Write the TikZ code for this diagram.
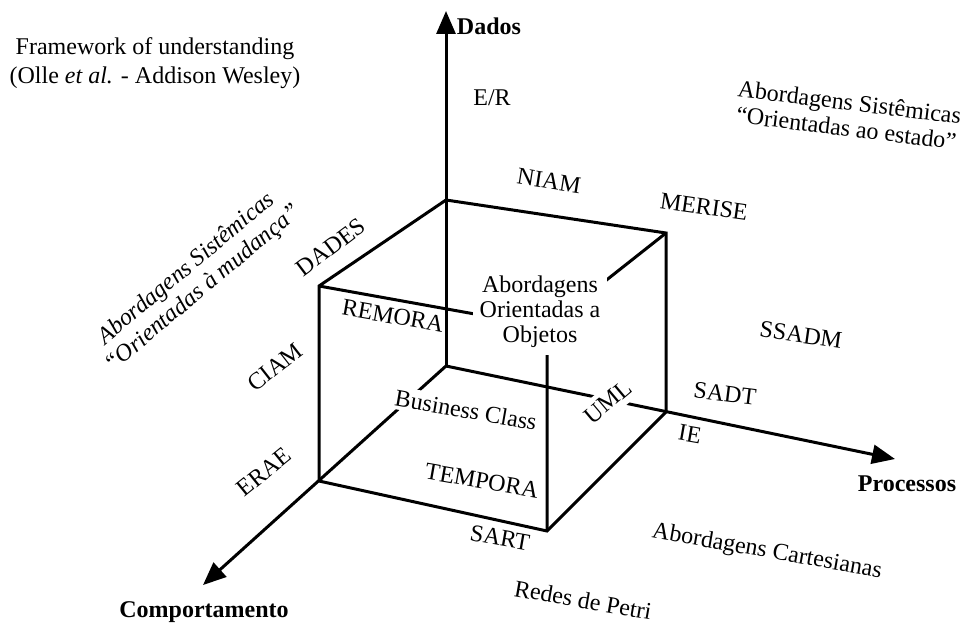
\documentclass[tikz,border=0pt]{standalone}
\usepackage{fontspec}
\setmainfont{Liberation Serif}
\usetikzlibrary{arrows.meta}

\begin{document}
\begin{tikzpicture}[x=1pt,y=-1pt,
  edge/.style={line width=3pt},
  axis/.style={edge,-{Triangle[length=23pt,width=19pt]}},
  lbl/.style={font=\fontsize{24}{26}\selectfont, inner sep=0pt},
  axlbl/.style={font=\fontsize{24}{26}\selectfont\bfseries, inner sep=0pt},
  cutout/.style={fill=white},
]
\useasboundingbox (0,0) rectangle (964,626);

% cube corners and axis ends
\coordinate (O)   at (446,366);
\coordinate (BT)  at (446,200);
\coordinate (FLT) at (319,286);
\coordinate (FLB) at (319,481);
\coordinate (FRB) at (547,531);
\coordinate (RB)  at (666,412);
\coordinate (RT)  at (666,233);
\coordinate (FRT) at (547,327);
\coordinate (tipD) at (446,11);
\coordinate (tipP) at (895,459);
\coordinate (tipC) at (203,585);

% cube outline and hidden edges
\draw[edge] (BT) -- (FLT) -- (FLB) -- (FRB) -- (RB) -- (RT) -- cycle;
\draw[edge] (FLT) -- (FRT) -- (FRB);
\draw[edge] (RT) -- (FRT);

% the three axes
\draw[axis] (O) -- (tipD);
\draw[axis] (O) -- (tipP);
\draw[axis] (O) -- (tipC);

% axis names
\node[axlbl] (dados) at (489,26) {Dados};
\node[axlbl] (proc)  at (907,484) {Processos};
\node[axlbl] (comp)  at (204,612) {Comportamento};

% title
\node[lbl, align=center, font=\fontsize{24}{29}\selectfont] (title) at (155,63)
  {Framework of understanding\\(Olle \textit{et al.} - Addison Wesley)};

% region names
\node[lbl, align=center, rotate=-7] (sisest) at (848,115)
  {Abordagens Sistêmicas\\“Orientadas ao estado”};
\node[lbl, align=center, rotate=40, font=\fontsize{24}{26}\selectfont\itshape] (sismud) at (195,279)
  {Abordagens Sistêmicas\\“Orientadas à mudança”};
\node[lbl, rotate=-10] (cart) at (767,552) {Abordagens Cartesianas};
\node[lbl, cutout, inner sep=7pt, align=center, font=\fontsize{24}{25}\selectfont] (oo) at (540,312)
  {Abordagens\\Orientadas a\\Objetos};

% methods
\node[lbl] (er) at (492,98) {E/R};
\node[lbl, rotate=-9] (niam) at (549,181) {NIAM};
\node[lbl, rotate=-8] (merise) at (704,207) {MERISE};
\node[lbl, rotate=37] (dades) at (331,247) {DADES};
\node[lbl, rotate=-10] (remora) at (393,316) {REMORA};
\node[lbl, rotate=38] (ciam) at (275,367) {CIAM};
\node[lbl, rotate=39] (erae) at (264,472) {ERAE};
\node[lbl, cutout, inner sep=3pt, rotate=-10] (bclass) at (466,410) {Business Class};
\node[lbl, cutout, inner sep=6pt, rotate=40] (uml) at (608,402) {UML};
\node[lbl, rotate=-10] (tempora) at (482,481) {TEMPORA};
\node[lbl, rotate=-10] (sart) at (500,538) {SART};
\node[lbl, rotate=-8] (ssadm) at (801,335) {SSADM};
\node[lbl, rotate=-7] (sadt) at (725,394) {SADT};
\node[lbl, rotate=-10] (ie) at (690,434) {IE};
\node[lbl, rotate=-10] (petri) at (583,600) {Redes de Petri};
\end{tikzpicture}
\end{document}
